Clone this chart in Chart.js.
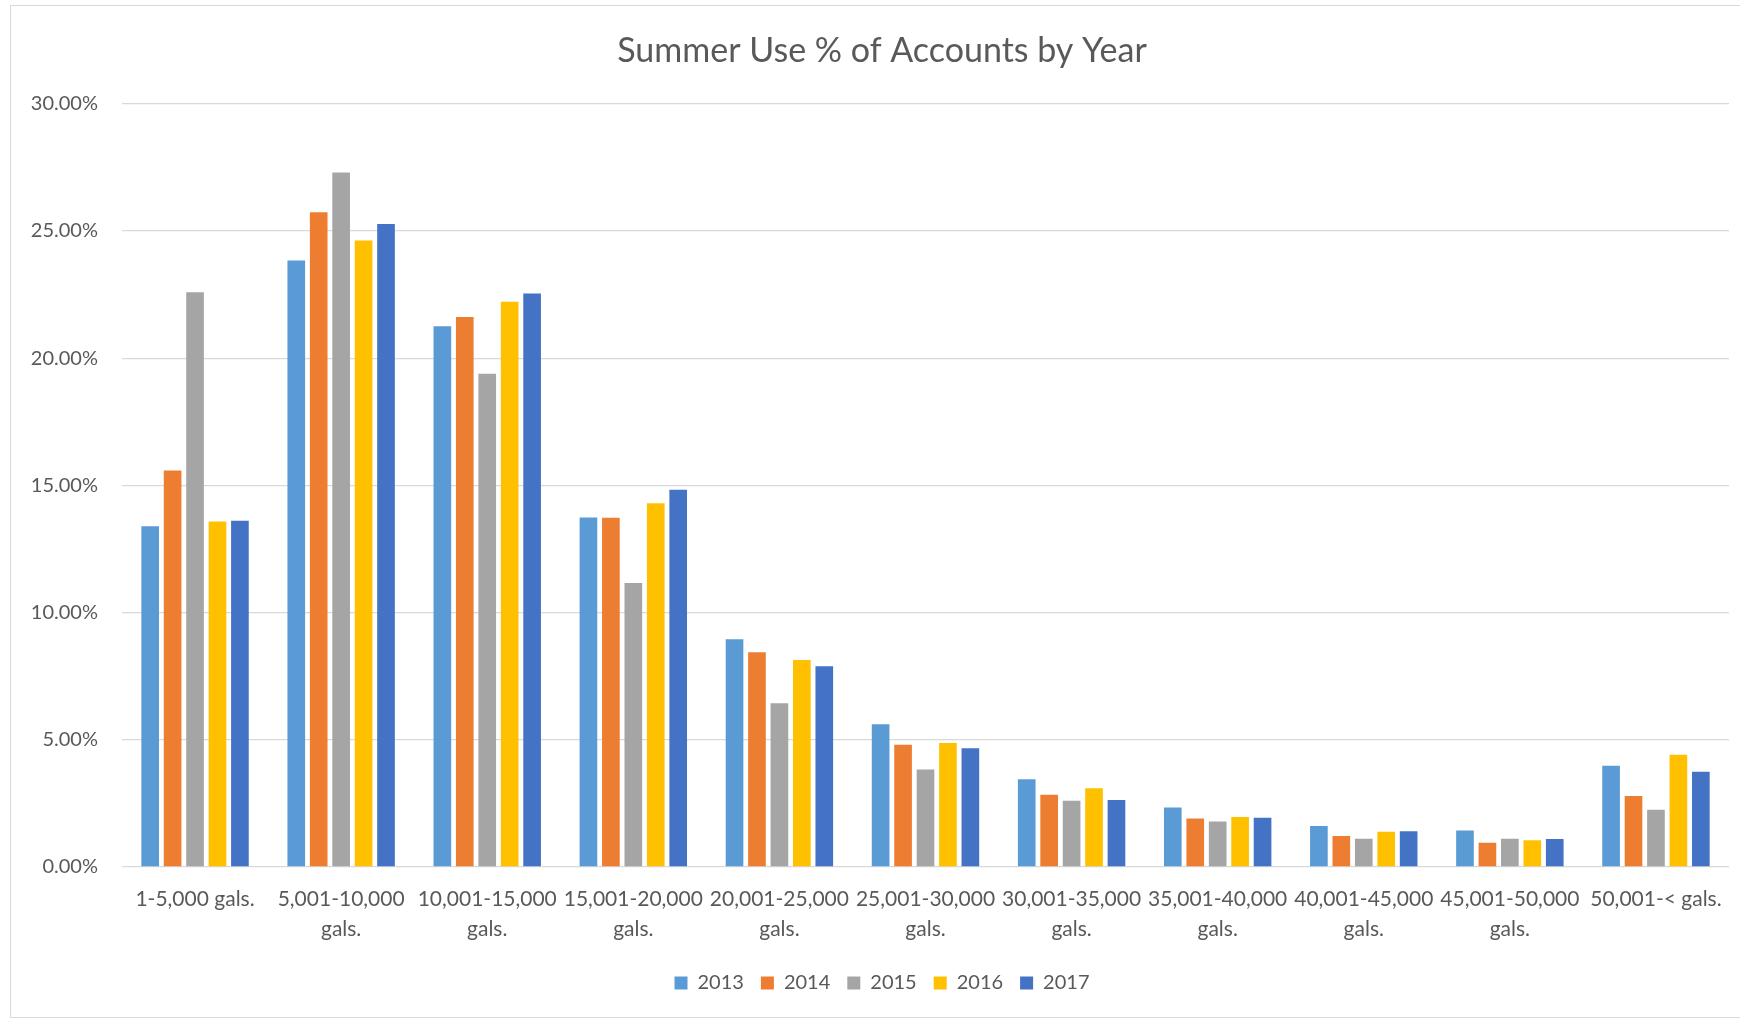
<!DOCTYPE html>
<html>
<head>
<meta charset="utf-8">
<title>Summer Use % of Accounts by Year</title>
<script src="https://cdn.jsdelivr.net/npm/chart.js@4/dist/chart.umd.min.js"></script>
<style>
    body { margin: 0; background: #ffffff; overflow: hidden; }
    #wrap { position: relative; width: 1740px; height: 1020px; }
    #frame {
        position: absolute; left: 10px; top: 5px; width: 1760px; height: 1013px;
        border: 1px solid #d9d9d9; box-sizing: border-box; pointer-events: none;
    }
    canvas { position: absolute; left: 0; top: 0; }
</style>
</head>
<body>
<div id="wrap">
    <canvas id="summerChart" width="1740" height="1020"></canvas>
    <div id="frame"></div>
</div>
<script>
// Usage bands (gallons per account over the summer)
const categories = [
    '1-5,000 gals.',
    ['5,001-10,000', 'gals.'],
    ['10,001-15,000', 'gals.'],
    ['15,001-20,000', 'gals.'],
    ['20,001-25,000', 'gals.'],
    ['25,001-30,000', 'gals.'],
    ['30,001-35,000', 'gals.'],
    ['35,001-40,000', 'gals.'],
    ['40,001-45,000', 'gals.'],
    ['45,001-50,000', 'gals.'],
    '50,001-< gals.'
];

// Share of accounts in each band, percent
const use2013 = [13.39, 23.84, 21.26, 13.74, 8.95, 5.61, 3.45, 2.34, 1.61, 1.43, 3.98];
const use2014 = [15.59, 25.74, 21.62, 13.73, 8.44, 4.81, 2.84, 1.91, 1.22, 0.95, 2.79];
const use2015 = [22.59, 27.30, 19.39, 11.16, 6.44, 3.83, 2.60, 1.79, 1.11, 1.11, 2.25];
const use2016 = [13.58, 24.63, 22.22, 14.30, 8.14, 4.87, 3.10, 1.97, 1.39, 1.05, 4.41];
const use2017 = [13.61, 25.28, 22.54, 14.83, 7.89, 4.67, 2.63, 1.94, 1.41, 1.10, 3.74];

const years = ['2013', '2014', '2015', '2016', '2017'];
const yTicks = [0, 5, 10, 15, 20, 25, 30];

const seriesColors = ['#5b9bd5', '#ed7d31', '#a5a5a5', '#ffc000', '#4472c4'];
const textColor = '#595959';
const gridColor = '#d9d9d9';
const fontFamily = 'Lato, "Open Sans", sans-serif';

const seriesValues = [use2013, use2014, use2015, use2016, use2017];
const datasets = years.map((year, i) => ({
    label: year,
    data: seriesValues[i],
    backgroundColor: seriesColors[i],
    borderWidth: 0,
    categoryPercentage: 0.768,
    barPercentage: 0.787
}));

const ctx = document.getElementById('summerChart').getContext('2d');

new Chart(ctx, {
    type: 'bar',
    data: {
        labels: categories,
        datasets: datasets
    },
    options: {
        responsive: false,
        animation: false,
        layout: {
            padding: { left: 24, right: 0, top: 0, bottom: 17 }
        },
        plugins: {
            title: {
                display: true,
                text: 'Summer Use % of Accounts by Year',
                color: textColor,
                font: { family: fontFamily, size: 34, weight: 'normal' },
                padding: { top: 31, bottom: 32 }
            },
            legend: {
                position: 'bottom',
                labels: {
                    color: textColor,
                    font: { family: fontFamily, size: 20 },
                    boxWidth: 13,
                    boxHeight: 13,
                    padding: 17
                }
            },
            tooltip: { enabled: false }
        },
        scales: {
            x: {
                grid: { display: false, drawTicks: false },
                border: { display: false },
                ticks: {
                    color: textColor,
                    font: { family: fontFamily, size: 21, lineHeight: 1.43 },
                    padding: 17,
                    maxRotation: 0,
                    autoSkip: false
                },
                afterFit: scale => { scale.height = 89; }
            },
            y: {
                min: 0,
                max: 30,
                afterBuildTicks: scale => {
                    scale.ticks = yTicks.map(v => ({ value: v }));
                },
                grid: { color: gridColor, lineWidth: 1.3, drawTicks: false },
                border: { display: false },
                ticks: {
                    color: textColor,
                    font: { family: fontFamily, size: 20 },
                    padding: 24,
                    callback: value => value.toFixed(2) + '%'
                },
                afterFit: scale => { scale.width = 98; }
            },
            // empty strip on the right so the plot stops short of the edge
            edge: {
                type: 'linear',
                position: 'right',
                display: true,
                grid: { display: false, drawTicks: false },
                border: { display: false },
                ticks: { display: false },
                afterFit: scale => { scale.width = 11; }
            }
        }
    }
});
</script>
</body>
</html>
